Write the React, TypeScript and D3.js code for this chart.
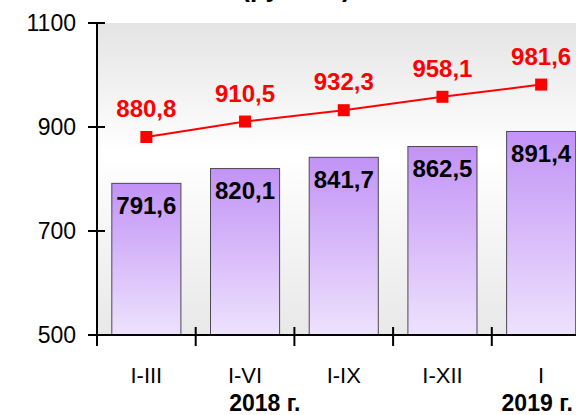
import React, { useEffect, useRef } from 'react';
import * as d3 from 'd3';

const categories = ['I-III', 'I-VI', 'I-IX', 'I-XII', 'I'];
const barValues = [791.6, 820.1, 841.7, 862.5, 891.4];
const lineValues = [880.8, 910.5, 932.3, 958.1, 981.6];
const yTicks = [500, 700, 900, 1100];
const yearLabels = ['2018 г.', '2019 г.'];
const yearAnchors = ['I-VI', 'I'];
const yearShift = [0.2, -0.04];

const fmt = (v: number) => v.toFixed(1).replace('.', ',');

const App: React.FC = () => {
    const svgRef = useRef<SVGSVGElement>(null);

    useEffect(() => {
        if (!svgRef.current) return;

        const width = 576;
        const left = 97;
        const top = 23;
        const bottom = 335;
        const step = 98.7;
        const font = '"Liberation Sans", Arial, sans-serif';

        const svg = d3.select(svgRef.current);
        svg.selectAll('*').remove();

        const x = d3.scaleBand<string>()
            .domain(categories)
            .range([left, left + step * categories.length])
            .paddingInner(0.3)
            .paddingOuter(0.15);
        const y = d3.scaleLinear().domain([500, 1100]).range([bottom, top]);

        const defs = svg.append('defs');
        const bg = defs.append('linearGradient').attr('id', 'bg').attr('x1', 0).attr('y1', 0).attr('x2', 0).attr('y2', 1);
        bg.append('stop').attr('offset', '0%').attr('stop-color', '#e4e4e4');
        bg.append('stop').attr('offset', '42%').attr('stop-color', '#ffffff');
        bg.append('stop').attr('offset', '100%').attr('stop-color', '#e8e8e8');

        const barGrad = defs.append('linearGradient').attr('id', 'bar').attr('x1', 0).attr('y1', 0).attr('x2', 0).attr('y2', 1);
        barGrad.append('stop').attr('offset', '0%').attr('stop-color', '#c293f6');
        barGrad.append('stop').attr('offset', '100%').attr('stop-color', '#eee2fd');

        // plot background
        svg.append('rect')
            .attr('x', left)
            .attr('y', top)
            .attr('width', width - left + 20)
            .attr('height', bottom - top)
            .attr('fill', 'url(#bg)');

        // title, mostly cut off at the top
        svg.append('text')
            .attr('x', 296)
            .attr('y', -3)
            .attr('text-anchor', 'middle')
            .attr('font-family', font)
            .attr('font-weight', 'bold')
            .attr('font-size', 26)
            .attr('fill', '#000')
            .text('(рублей)');

        // bars
        svg.selectAll('rect.bar')
            .data(barValues)
            .enter()
            .append('rect')
            .attr('class', 'bar')
            .attr('x', (_, i) => x(categories[i])!)
            .attr('y', d => y(d))
            .attr('width', x.bandwidth())
            .attr('height', d => bottom - y(d))
            .attr('fill', 'url(#bar)')
            .attr('stroke', '#4a4a55')
            .attr('stroke-width', 1);

        svg.selectAll('text.barlabel')
            .data(barValues)
            .enter()
            .append('text')
            .attr('class', 'barlabel')
            .attr('x', (_, i) => x(categories[i])! + x.bandwidth() / 2)
            .attr('y', d => y(d) + 30.5)
            .attr('text-anchor', 'middle')
            .attr('font-family', font)
            .attr('font-weight', 'bold')
            .attr('font-size', 24)
            .attr('fill', '#000')
            .text(d => fmt(d));

        // line
        const cx = (i: number) => x(categories[i])! + x.bandwidth() / 2;
        const line = d3.line<number>().x((_, i) => cx(i)).y(d => y(d));
        svg.append('path')
            .datum(lineValues)
            .attr('d', line)
            .attr('fill', 'none')
            .attr('stroke', '#ff0000')
            .attr('stroke-width', 2);

        svg.selectAll('rect.marker')
            .data(lineValues)
            .enter()
            .append('rect')
            .attr('class', 'marker')
            .attr('x', (_, i) => cx(i) - 6)
            .attr('y', d => y(d) - 6)
            .attr('width', 12)
            .attr('height', 12)
            .attr('fill', '#ff0000');

        svg.selectAll('text.linelabel')
            .data(lineValues)
            .enter()
            .append('text')
            .attr('class', 'linelabel')
            .attr('x', (_, i) => cx(i))
            .attr('y', d => y(d) - 20)
            .attr('text-anchor', 'middle')
            .attr('font-family', font)
            .attr('font-weight', 'bold')
            .attr('font-size', 24)
            .attr('fill', '#ff0000')
            .text(d => fmt(d));

        // y axis
        const yAxis = svg.append('g');
        yAxis.append('line')
            .attr('x1', left).attr('x2', left)
            .attr('y1', top).attr('y2', bottom + 11)
            .attr('stroke', '#000').attr('stroke-width', 2);
        yAxis.selectAll('line.tick')
            .data(yTicks)
            .enter()
            .append('line')
            .attr('class', 'tick')
            .attr('x1', left - 9).attr('x2', left + 8)
            .attr('y1', d => y(d)).attr('y2', d => y(d))
            .attr('stroke', '#000').attr('stroke-width', 2);
        yAxis.selectAll('text')
            .data(yTicks)
            .enter()
            .append('text')
            .attr('x', left - 21)
            .attr('y', d => y(d))
            .attr('dy', '0.36em')
            .attr('text-anchor', 'end')
            .attr('font-family', font)
            .attr('font-size', 23)
            .attr('fill', '#000')
            .text(d => d);

        // x axis
        const xAxis = svg.append('g');
        xAxis.append('line')
            .attr('x1', left).attr('x2', width + 10)
            .attr('y1', bottom).attr('y2', bottom)
            .attr('stroke', '#000').attr('stroke-width', 2);
        const bounds = d3.range(1, categories.length + 1).map(i => x.range()[0] + i * x.step());
        xAxis.selectAll('line.tick')
            .data(bounds)
            .enter()
            .append('line')
            .attr('class', 'tick')
            .attr('x1', d => d).attr('x2', d => d)
            .attr('y1', bottom - 8).attr('y2', bottom + 11)
            .attr('stroke', '#000').attr('stroke-width', 2);
        xAxis.selectAll('text.cat')
            .data(categories)
            .enter()
            .append('text')
            .attr('class', 'cat')
            .attr('x', d => x(d)! + x.bandwidth() / 2)
            .attr('y', 383)
            .attr('text-anchor', 'middle')
            .attr('font-family', font)
            .attr('font-size', 22)
            .attr('fill', '#000')
            .text(d => d);
        xAxis.selectAll('text.year')
            .data(yearLabels)
            .enter()
            .append('text')
            .attr('class', 'year')
            .attr('x', (_, i) => x(yearAnchors[i])! + x.bandwidth() / 2 + yearShift[i] * x.step())
            .attr('y', 411)
            .attr('text-anchor', 'middle')
            .attr('font-family', font)
            .attr('font-weight', 'bold')
            .attr('font-size', 23)
            .attr('fill', '#000')
            .text(d => d);
    }, []);

    return (
        <div style={{ position: 'fixed', left: 0, top: 0, width: 576, height: 415, background: '#fff' }}>
            <svg ref={svgRef} width={576} height={415} style={{ display: 'block' }} />
        </div>
    );
};

export default App;
